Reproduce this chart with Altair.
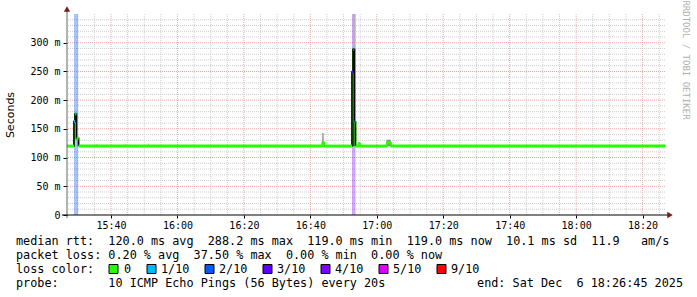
import altair as alt
import pandas as pd

DAY = "2025-12-06"
START = "15:26:45"
END = "18:26:45"

# median RTT (ms), step series, with loss bucket of each step and the spike it belongs to
MED_TIME = ["15:26:45", "15:28:51", "15:29:09", "15:29:36", "15:30:13", "16:43:35", "16:44:10",
            "16:52:32", "16:52:50", "16:53:17", "16:53:35", "16:54:28", "16:54:55", "17:03:03",
            "17:04:15", "18:26:45"]
MED_MS = [120, 163, 176, 133, 120, 126, 120, 249, 288, 162, 120, 124, 120, 126, 120, 119]
MED_LOSS = ["0", "1/10", "1/10", "0", "0", "0", "0", "3/10", "4/10", "1/10", "0", "0", "0", "0", "0", "0"]
MED_SPIKE = [1, 1, 1, 1, 1, 0, 2, 2, 2, 2, 2, 0, 0, 0, 0, 0]

# smoke (spread of the pings)
SMOKE_T0 = ["15:29:09", "16:43:35", "16:52:32", "16:52:50", "16:54:28", "17:02:55", "15:35:40", "15:44:05", "15:51:05"]
SMOKE_T1 = ["15:29:36", "16:44:00", "16:53:17", "16:53:35", "16:54:50", "17:04:15", "15:36:00", "15:44:25", "15:51:25"]
SMOKE_LO = [170, 120, 120, 288, 120, 120, 120, 120, 120]
SMOKE_HI = [183, 143, 288, 350, 127, 131, 124, 124, 124]
SMOKE_LEVEL = [1, 2, 3, 1, 2, 2, 1, 1, 1]

# loss bands
BAND_T0 = ["15:28:51", "16:52:32"]
BAND_T1 = ["15:30:05", "16:53:35"]
BAND_LOSS = ["2/10", "4/10"]

LOSS_NAMES = ["0", "1/10", "2/10", "3/10", "4/10", "5/10", "9/10"]
LOSS_COLORS = ["#26ff00", "#00b8ff", "#0059ff", "#5e00ff", "#7e00ff", "#dd00ff", "#ff0000"]

Y_TICKS = [0, 50, 100, 150, 200, 250, 300]
X_TICKS = ["15:40", "16:00", "16:20", "16:40", "17:00", "17:20", "17:40", "18:00", "18:20"]

LEGEND_LINES = [
    "median rtt:  120.0 ms avg  288.2 ms max  119.0 ms min  119.0 ms now  10.1 ms sd  11.9   am/s",
    "packet loss: 0.20 % avg  37.50 % max  0.00 % min  0.00 % now",
    "loss color:",
    "probe:       10 ICMP Echo Pings (56 Bytes) every 20s",
]
END_TEXT = "end: Sat Dec  6 18:26:45 2025"
Y_TITLE = "Seconds"
WATERMARK = "RRDTOOL / TOBI OETIKER"

# ---------------------------------------------------------------- layout
MONO = "DejaVu Sans Mono"
W, H = 598, 201
PL, PT = 67, 14
LINE_Y = [241, 255, 269, 283]
SQ_X = [109, 147, 205, 263, 321, 379, 437]
LBL_X = [124, 161, 219, 277, 335, 393, 451]
GREEN = LOSS_COLORS[0]


def ts(hms):
    return f"{DAY}T{hms}Z"


def ms(hms):
    return int(pd.Timestamp(ts(hms)).timestamp() * 1000)


color_of = dict(zip(LOSS_NAMES, LOSS_COLORS))
shade_of = {1: "#b4b4b4", 2: "#8c8c8c", 3: "#3a3a3a"}

xscale = alt.Scale(type="utc", domain=[ms(START), ms(END)], nice=False)
yscale = alt.Scale(domain=[0, 350], nice=False, zero=True)

X_AXIS = alt.Axis(values=[ms(t + ":00") for t in X_TICKS], labelExpr="utcFormat(datum.value, '%H:%M')",
                  title=None, grid=False, domain=False, ticks=True, tickSize=3, tickColor="#000",
                  labelFont=MONO, labelFontSize=10, labelColor="#000", labelPadding=2,
                  labelFlush=False, labelOverlap=False)
Y_AXIS = alt.Axis(values=Y_TICKS, labelExpr="datum.value == 0 ? '0' : datum.value + ' m'",
                  title=Y_TITLE, titleFont="DejaVu Sans", titleFontSize=11, titleFontWeight="normal",
                  titleColor="#000", titleX=-57, titleY=H / 2, titleAlign="center", titleBaseline="middle",
                  grid=False, domain=False, ticks=True, tickSize=4, tickColor="#000",
                  labelFont=MONO, labelFontSize=10, labelColor="#000", labelPadding=3)

X = lambda f: alt.X(f, type="temporal", scale=xscale, axis=X_AXIS)
X2 = lambda f: alt.X2(f)
Y = lambda f: alt.Y(f, type="quantitative", scale=yscale, axis=Y_AXIS)

# grid data
all5 = pd.date_range(ts("15:30:00"), ts("18:25:00"), freq="5min")
minor_t = [t.strftime("%Y-%m-%dT%H:%M:%SZ") for t in all5 if t.minute % 20 != 0]
major_t = [t.strftime("%Y-%m-%dT%H:%M:%SZ") for t in all5 if t.minute % 20 == 0]
minor_v = [v for v in range(10, 350, 10) if v % 50 != 0]
major_v = [v for v in range(50, 350, 50)]

dash = [1, 1]
MINOR_C, MAJOR_C = "#cccccc", "#eaa8a8"
g_minor_x = alt.Chart(pd.DataFrame({"t": minor_t})).mark_rule(color=MINOR_C, strokeDash=dash, strokeWidth=1).encode(x=X("t"))
g_major_x = alt.Chart(pd.DataFrame({"t": major_t})).mark_rule(color=MAJOR_C, strokeDash=dash, strokeWidth=1).encode(x=X("t"))
g_minor_y = alt.Chart(pd.DataFrame({"v": minor_v})).mark_rule(color=MINOR_C, strokeDash=dash, strokeWidth=1).encode(y=Y("v"))
g_major_y = alt.Chart(pd.DataFrame({"v": major_v})).mark_rule(color=MAJOR_C, strokeDash=dash, strokeWidth=1).encode(y=Y("v"))

# loss bands
band_df = pd.DataFrame({"t0": [ts(t) for t in BAND_T0], "t1": [ts(t) for t in BAND_T1],
                        "c": [color_of[l] for l in BAND_LOSS]})
bands = alt.Chart(band_df).mark_rect(opacity=0.35).encode(
    x=X("t0"), x2=X2("t1"), y=alt.value(0), y2=alt.value(H), color=alt.Color("c:N", scale=None))

# smoke
smoke_df = pd.DataFrame({"t0": [ts(t) for t in SMOKE_T0], "t1": [ts(t) for t in SMOKE_T1],
                         "lo": SMOKE_LO, "hi": SMOKE_HI, "c": [shade_of[l] for l in SMOKE_LEVEL]})
smoke = alt.Chart(smoke_df).mark_rect().encode(
    x=X("t0"), x2=X2("t1"), y=Y("lo"), y2=alt.Y2("hi"), color=alt.Color("c:N", scale=None))

# median: green step line overall, black step line for the spikes, loss colours on each step
med_df = pd.DataFrame({"t": [ts(t) for t in MED_TIME], "v": MED_MS})
med_green = alt.Chart(med_df).mark_line(interpolate="step-after", color=GREEN, strokeWidth=2).encode(
    x=X("t"), y=Y("v"))
spike_df = pd.DataFrame({"t": [ts(t) for t in MED_TIME], "v": MED_MS, "s": MED_SPIKE})
spike_df = spike_df[spike_df["s"] > 0]
med_black = alt.Chart(spike_df).mark_line(interpolate="step-after", color="#000", strokeWidth=1.5).encode(
    x=X("t"), y=Y("v"), detail="s:N")
seg_df = pd.DataFrame({"t0": [ts(t) for t in MED_TIME[:-1]], "t1": [ts(t) for t in MED_TIME[1:]],
                       "v": MED_MS[:-1], "c": [color_of[l] for l in MED_LOSS[:-1]]})
med_segs = alt.Chart(seg_df).mark_rule(strokeWidth=3).encode(
    x=X("t0"), x2=X2("t1"), y=Y("v"), color=alt.Color("c:N", scale=None))

one = pd.DataFrame({"k": [0]})
y_axis_line = alt.Chart(one).mark_rule(color="#666666", strokeWidth=1).encode(
    x=alt.value(0), y=alt.value(-4), y2=alt.value(H + 3))
x_axis_line = alt.Chart(one).mark_rule(color="#000000", strokeWidth=1).encode(
    y=alt.value(H), x=alt.value(-5), x2=alt.value(W + 3))
arrow_up = alt.Chart(one).mark_point(shape="triangle-up", filled=True, size=40, color="#7a1c1c", opacity=1).encode(
    x=alt.value(0), y=alt.value(-5))
arrow_right = alt.Chart(one).mark_point(shape="triangle-right", filled=True, size=40, color="#7a1c1c", opacity=1).encode(
    x=alt.value(W + 5), y=alt.value(H))

NB = "\u00a0"
texts = []
for i, line in enumerate(LEGEND_LINES):
    texts.append(alt.Chart(pd.DataFrame({"s": [line.replace(" ", NB)]})).mark_text(
        align="left", baseline="middle", font=MONO, fontSize=11.8, color="#000").encode(
        x=alt.value(16 - PL), y=alt.value(LINE_Y[i] - PT), text="s:N"))
texts.append(alt.Chart(pd.DataFrame({"s": [END_TEXT.replace(" ", NB)]})).mark_text(
    align="right", baseline="middle", font=MONO, fontSize=11.8, color="#000").encode(
    x=alt.value(683 - PL), y=alt.value(LINE_Y[3] - PT), text="s:N"))
for i, (name, col) in enumerate(zip(LOSS_NAMES, LOSS_COLORS)):
    ly = LINE_Y[2] - PT
    texts.append(alt.Chart(one).mark_rect(stroke="#000", strokeWidth=1, color=col).encode(
        x=alt.value(SQ_X[i] - PL), x2=alt.value(SQ_X[i] - PL + 9),
        y=alt.value(ly - 4.5), y2=alt.value(ly + 4.5)))
    texts.append(alt.Chart(pd.DataFrame({"s": [name]})).mark_text(
        align="left", baseline="middle", font=MONO, fontSize=11.8, color="#000").encode(
        x=alt.value(LBL_X[i] - PL), y=alt.value(ly), text="s:N"))
texts.append(alt.Chart(pd.DataFrame({"s": [WATERMARK.replace(" ", NB)]})).mark_text(
    align="center", baseline="middle", font=MONO, fontSize=9, color="#b0b0b0", angle=90).encode(
    x=alt.value(686 - PL), y=alt.value(60 - PT), text="s:N"))

chart = alt.layer(
    g_minor_y, g_minor_x, g_major_y, g_major_x, bands, smoke, med_green, med_black, med_segs,
    y_axis_line, x_axis_line, arrow_up, arrow_right, *texts
).properties(
    width=W, height=H,
    autosize=alt.AutoSizeParams(type="none"),
    padding={"left": PL, "top": PT, "right": 697 - PL - W, "bottom": 297 - PT - H},
    background="#ffffff",
).configure_view(strokeWidth=0)

chart.save("out.html", embed_options={"renderer": "svg", "actions": False})
